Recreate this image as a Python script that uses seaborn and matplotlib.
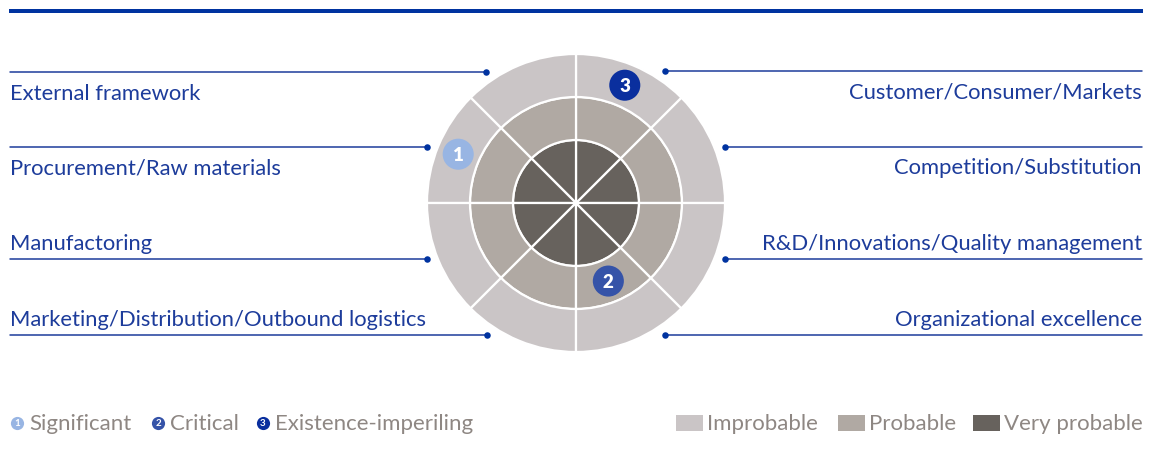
import numpy as np
import pandas as pd
import matplotlib
matplotlib.use("Agg")
import matplotlib.pyplot as plt
from matplotlib.patches import Wedge, Rectangle
import seaborn as sns

# ==================================
# DATA
# ==================================
# sectors counted counter-clockwise from 3 o'clock, 45 degrees each
sectors = [
    "Competition/Substitution",
    "Customer/Consumer/Markets",
    "External framework",
    "Procurement/Raw materials",
    "Manufactoring",
    "Marketing/Distribution/Outbound logistics",
    "Organizational excellence",
    "R&D/Innovations/Quality management",
]
# label line heights (pixel rows) for each sector label
label_line_y = [147, 71, 72, 147, 259, 335, 335, 259]

rings = ["Very probable", "Probable", "Improbable"]
ring_colors = ["#67625d", "#b0a9a3", "#cac5c6"]

risk_levels = [1, 2, 3]
risk_names = ["Significant", "Critical", "Existence-imperiling"]
risk_colors = ["#98b5e3", "#3553a8", "#0a2f9e"]
risk_sector = [3, 6, 1]          # index into sectors
risk_ring = [2, 1, 2]            # index into rings

# ==================================
# LAYOUT
# ==================================
sns.set_theme(style="white")
plt.rcParams["font.family"] = ["Lato", "DejaVu Sans"]

W, H = 1151, 474
cx, cy = 576, 203
ring_edges = [0, 63, 106, 149]
dot_r = 159
blue = "#1d3c9b"
grey_txt = "#8e8783"

fig = plt.figure(figsize=(W / 100, H / 100), dpi=100)
ax = fig.add_axes([0, 0, 1, 1])
ax.set_xlim(0, W)
ax.set_ylim(H, 0)
ax.set_aspect("equal")
ax.axis("off")

# top bar
ax.add_patch(Rectangle((9, 9), 1134, 4, color="#0033a0", lw=0))

# rings and sectors (y axis is inverted, so angles go the other way)
for s in range(len(sectors)):
    a0 = -(s + 1) * 45
    a1 = -s * 45
    for r in range(len(rings)):
        ax.add_patch(Wedge((cx, cy), ring_edges[r + 1], a0, a1,
                           width=ring_edges[r + 1] - ring_edges[r],
                           facecolor=ring_colors[r], edgecolor="white", lw=1.6))

# labels with leader lines
for s, name in enumerate(sectors):
    ly = label_line_y[s]
    dx = np.sqrt(dot_r ** 2 - (ly - cy) ** 2)
    right = s in (0, 1, 6, 7)
    ty = ly + 21.5 if ly < cy else ly - 15.5
    if right:
        x_dot = cx + dx
        ax.plot([x_dot, 1142], [ly, ly], color=blue, lw=1.1)
        ax.text(1142, ty, name, ha="right", va="center", color=blue, fontsize=15.8)
    else:
        x_dot = cx - dx
        ax.plot([10, x_dot], [ly, ly], color=blue, lw=1.1)
        ax.text(10, ty, name, ha="left", va="center", color=blue, fontsize=15.8)
    ax.scatter([x_dot], [ly], s=22, color="#0033a0", zorder=5, lw=0)

# risk markers
mid_r = [(ring_edges[i] + ring_edges[i + 1]) / 2 for i in range(3)]
ang = [np.deg2rad(s * 45 + 22.5) for s in risk_sector]
risks = pd.DataFrame({
    "level": risk_levels,
    "x": [cx + mid_r[r] * np.cos(a) for r, a in zip(risk_ring, ang)],
    "y": [cy - mid_r[r] * np.sin(a) for r, a in zip(risk_ring, ang)],
})
sns.scatterplot(data=risks, x="x", y="y", hue="level", palette=risk_colors,
                s=500, linewidth=0, legend=False, ax=ax, zorder=6)
for lvl, x, y in zip(risk_levels, risks["x"], risks["y"]):
    ax.text(x, y + 1, str(lvl), ha="center", va="center",
            color="white", fontsize=13.5, fontweight="heavy", zorder=7)

# legend: risk levels
leg_y = 423
leg_x = [17, 158, 263]
for i, lvl in enumerate(risk_levels):
    ax.scatter([leg_x[i]], [leg_y], s=90, color=risk_colors[i], lw=0, zorder=6)
    ax.text(leg_x[i], leg_y + 0.5, str(lvl), ha="center", va="center",
            color="white", fontsize=7, fontweight="bold", zorder=7)
    ax.text(leg_x[i] + 12, leg_y + 1.5, risk_names[i], ha="left", va="center",
            color=grey_txt, fontsize=16)

# legend: probability
sq_x = [676, 838, 973]
for i, name in enumerate(["Improbable", "Probable", "Very probable"]):
    col = ring_colors[::-1][i]
    ax.add_patch(Rectangle((sq_x[i], leg_y - 8), 27, 16, color=col, lw=0))
    ax.text(sq_x[i] + 31, leg_y + 1.5, name, ha="left", va="center",
            color=grey_txt, fontsize=16)

fig.savefig("out.png", dpi=100)
